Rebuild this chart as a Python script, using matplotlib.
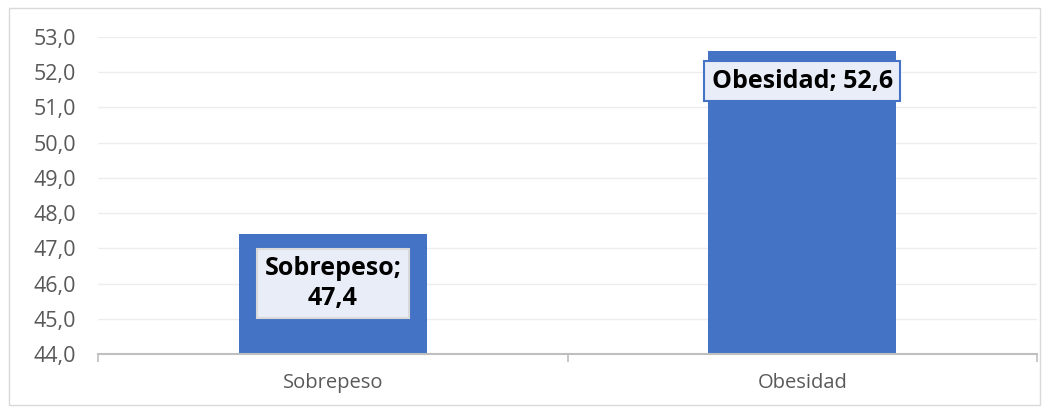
import matplotlib.pyplot as plt
from matplotlib.patches import Rectangle
from matplotlib.ticker import FixedLocator

categorias = ["Sobrepeso", "Obesidad"]
valores = [47.4, 52.6]
etiquetas = ["Sobrepeso;\n47,4", "Obesidad; 52,6"]
posiciones_etiqueta = [46.0, 51.75]
ticks_y = [44, 45, 46, 47, 48, 49, 50, 51, 52, 53]

plt.rcParams['font.family'] = ['Open Sans', 'DejaVu Sans']

fig = plt.figure(figsize=(10.49, 4.13), dpi=100)
ax = fig.add_axes([98 / 1049, 1 - 354 / 413, 939 / 1049, 317 / 413])

x = range(len(categorias))
ax.bar(x, valores, width=0.4, color="#4472C4", zorder=2)
ax.set_xlim(-0.5, 1.5)
ax.set_ylim(44, 53)
ax.set_yticks(ticks_y)
ax.set_yticklabels([f"{v:.1f}".replace(".", ",") for v in ticks_y], fontsize=15.5, color="#595959")
ax.set_xticks(list(x))
ax.set_xticklabels(categorias, fontsize=14.5, color="#595959")
ax.tick_params(axis="x", which="major", length=0, pad=14)
ax.tick_params(axis="y", length=0, pad=16)
ax.xaxis.set_minor_locator(FixedLocator([-0.5, 0.5, 1.5]))
ax.tick_params(axis="x", which="minor", length=6, color="#BFBFBF", width=1.2)
ax.grid(axis="y", color="#EDEDED", linewidth=1, zorder=0)
for s in ["top", "right", "left"]:
    ax.spines[s].set_visible(False)
ax.spines["bottom"].set_color("#BFBFBF")
ax.spines["bottom"].set_linewidth(1.5)

bordes = ["#D9D9D9", "#4472C4"]
for i, (txt, yl) in enumerate(zip(etiquetas, posiciones_etiqueta)):
    ax.text(i, yl, txt, ha="center", va="center", fontsize=18, fontweight="bold",
            color="black", zorder=4, linespacing=1.25,
            bbox=dict(boxstyle="square,pad=0.3", facecolor="#E9EDF7",
                      edgecolor=bordes[i], linewidth=1.5))

fig.patches.append(Rectangle((9 / 1049, 8 / 413), 1031 / 1049, 397 / 413,
                             transform=fig.transFigure, fill=False,
                             edgecolor="#D9D9D9", linewidth=1))

fig.savefig("out.png", dpi=100)
